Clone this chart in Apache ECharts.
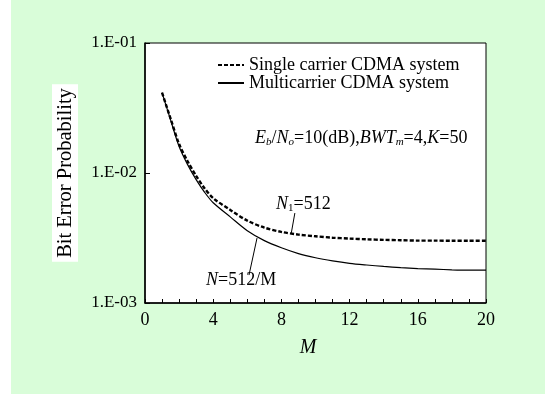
<!DOCTYPE html>
<html>
<head>
<meta charset="utf-8">
<script src="https://cdn.jsdelivr.net/npm/echarts@6/dist/echarts.min.js"></script>
<style>
  html, body { margin: 0; background: #fff; }
  #chart { position: absolute; left: 11px; top: 0; width: 534px; height: 394px; }
</style>
</head>
<body>
<div id="chart"></div>
<script>
const mValues = [1, 1.5, 2, 2.5, 3, 3.5, 4, 5, 6, 7, 8, 9, 10, 11, 12, 13, 14, 15, 16, 17, 18, 19, 20];
const singleCarrier = [0.0415, 0.0262, 0.0167, 0.0123, 0.0095, 0.0076, 0.0064, 0.0052, 0.0043, 0.00380, 0.00352, 0.00336, 0.00326, 0.00318, 0.00313, 0.00309, 0.00306, 0.00304, 0.00302, 0.00302, 0.00301, 0.00301, 0.00301];
const multiCarrier = [0.0415, 0.0256, 0.0160, 0.0116, 0.0089, 0.0071, 0.0059, 0.0046, 0.0036, 0.00302, 0.00266, 0.00240, 0.00223, 0.00211, 0.00202, 0.00196, 0.00191, 0.00187, 0.00184, 0.00182, 0.00180, 0.00179, 0.00179];
const xTicks = [0, 4, 8, 12, 16, 20];
const yTickLabels = { '-1': '1.E-01', '-2': '1.E-02', '-3': '1.E-03' };
// leader lines from labels to curves, in data units [M, BEP]
const leaderN1 = [[8.79, 0.00492], [8.58, 0.00345]];
const leaderN = [[6.10, 0.00164], [6.57, 0.00316]];

const serif = 'Liberation Serif';

const pair = (xs, ys) => xs.map((x, i) => [x, ys[i]]);

const chart = echarts.init(document.getElementById('chart'));
chart.setOption({
  backgroundColor: '#d9fdd9',
  animation: false,
  color: ['#000', '#000'],
  textStyle: { fontFamily: serif, color: '#000' },
  grid: {
    left: 134, right: 59, top: 43, bottom: 91,
    show: true, backgroundColor: '#fff', borderColor: '#000', borderWidth: 1
  },
  legend: {
    orient: 'vertical',
    left: 201, top: 51,
    itemWidth: 26, itemHeight: 12, itemGap: 0,
    itemStyle: { opacity: 0 },
    textStyle: { fontFamily: serif, fontSize: 18, color: '#000', lineHeight: 16 },
    data: ['Single carrier CDMA system', 'Multicarrier CDMA system']
  },
  xAxis: {
    type: 'value',
    min: 0, max: 20, interval: 4,
    name: 'M',
    nameLocation: 'middle',
    nameGap: 35,
    nameTextStyle: { fontFamily: serif, fontSize: 20, fontStyle: 'italic', padding: [0, 15, 0, 0] },
    axisLine: { lineStyle: { color: '#000', width: 1.5 } },
    axisTick: { inside: true, length: 4, lineStyle: { color: '#000' } },
    minorTick: { show: true, splitNumber: 4, length: 4, lineStyle: { color: '#000' } },
    axisLabel: {
      fontFamily: serif, fontSize: 18, color: '#000', margin: 8,
      formatter: v => xTicks.includes(v) ? String(v) : ''
    },
    splitLine: { show: false }
  },
  yAxis: {
    type: 'log',
    min: 0.001, max: 0.1,
    name: 'Bit Error Probability',
    nameLocation: 'middle',
    nameGap: 67,
    nameTextStyle: { fontFamily: serif, fontSize: 20.5, backgroundColor: '#fff', padding: [3, 4, 2, 4] },
    axisLine: { lineStyle: { color: '#000', width: 1.5 } },
    axisTick: { inside: true, length: 5, lineStyle: { color: '#000' } },
    axisLabel: {
      fontFamily: serif, fontSize: 17, color: '#000', margin: 8,
      formatter: v => yTickLabels[String(Math.round(Math.log10(v)))] || ''
    },
    splitLine: { show: false }
  },
  series: [
    {
      name: 'Single carrier CDMA system',
      type: 'line',
      data: pair(mValues, singleCarrier),
      showSymbol: false, symbol: 'none', smooth: 0.3,
      itemStyle: { color: '#000' },
      lineStyle: { color: '#000', width: 2.4, type: [4, 2] },
      markLine: {
        silent: true, symbol: 'none', label: { show: false },
        lineStyle: { color: '#000', width: 1, type: 'solid' },
        data: [[{ coord: leaderN1[0] }, { coord: leaderN1[1] }]]
      }
    },
    {
      name: 'Multicarrier CDMA system',
      type: 'line',
      data: pair(mValues, multiCarrier),
      showSymbol: false, symbol: 'none', smooth: 0.3,
      itemStyle: { color: '#000' },
      lineStyle: { color: '#000', width: 1.2 },
      markLine: {
        silent: true, symbol: 'none', label: { show: false },
        lineStyle: { color: '#000', width: 1, type: 'solid' },
        data: [[{ coord: leaderN[0] }, { coord: leaderN[1] }]]
      }
    }
  ],
  graphic: [
    {
      type: 'text', left: 244, top: 129,
      style: {
        text: '{i|E}{s|b}{n|/}{i|N}{s|o}{n|=10(dB),}{i|BWT}{s|m}{n|=4,}{i|K}{n|=50}',
        rich: {
          i: { fontFamily: serif, fontSize: 18, fontStyle: 'italic', fill: '#000' },
          n: { fontFamily: serif, fontSize: 18, fill: '#000' },
          s: { fontFamily: serif, fontSize: 11, fontStyle: 'italic', fill: '#000', padding: [9, 0, 0, 0] }
        }
      }
    },
    {
      type: 'text', left: 265, top: 195,
      style: {
        text: '{i|N}{s|1}{n|=512}',
        rich: {
          i: { fontFamily: serif, fontSize: 18, fontStyle: 'italic', fill: '#000' },
          n: { fontFamily: serif, fontSize: 18, fill: '#000' },
          s: { fontFamily: serif, fontSize: 11, fill: '#000', padding: [9, 0, 0, 0] }
        }
      }
    },
    {
      type: 'text', left: 195, top: 271,
      style: {
        text: '{i|N}{n|=512/M}',
        rich: {
          i: { fontFamily: serif, fontSize: 18, fontStyle: 'italic', fill: '#000' },
          n: { fontFamily: serif, fontSize: 18, fill: '#000' }
        }
      }
    }
  ]
});
</script>
</body>
</html>
